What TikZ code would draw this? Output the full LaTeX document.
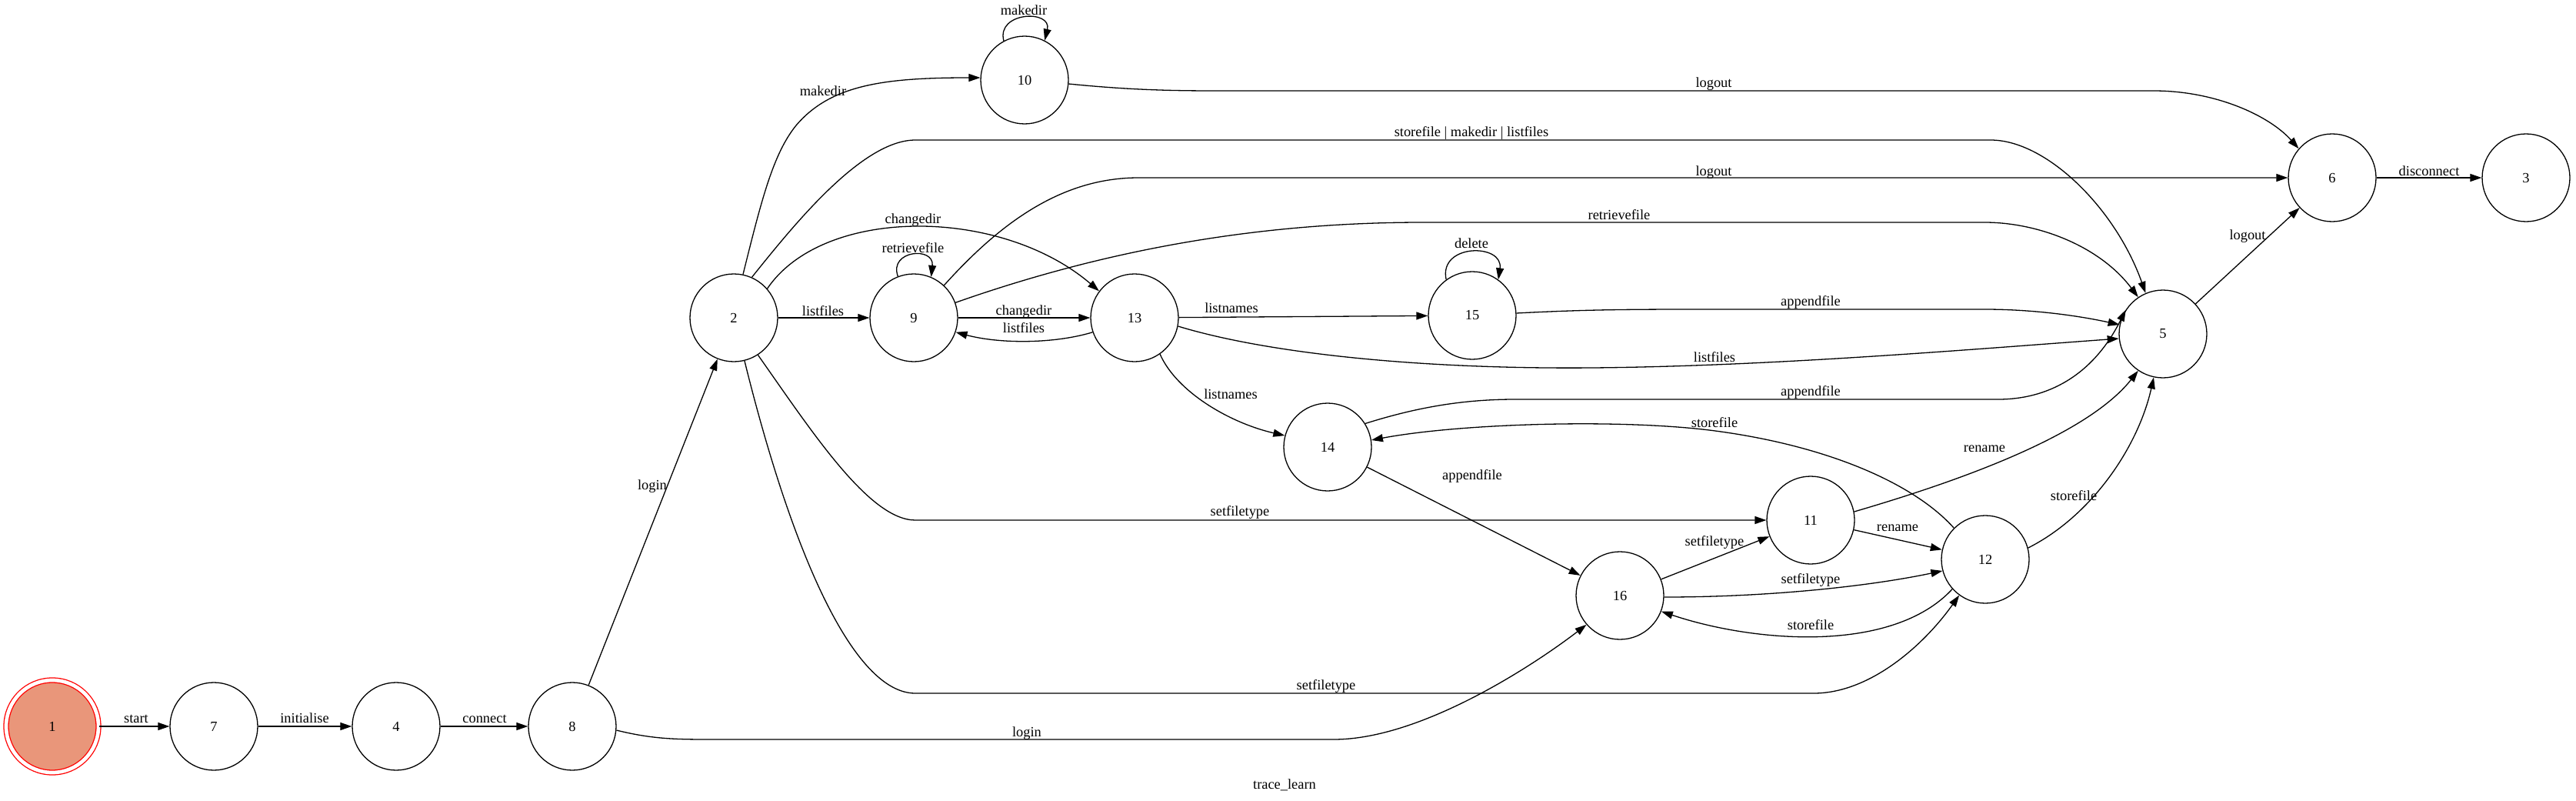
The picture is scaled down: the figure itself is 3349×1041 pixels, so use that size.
\documentclass[tikz,border=0pt]{standalone}
\usepackage{fontspec}
\setmainfont{Liberation Serif}
\usetikzlibrary{arrows.meta}
\definecolor{startfill}{RGB}{233,150,122}
\begin{document}
\begin{tikzpicture}[x=1pt,y=-1pt,
  state/.style={circle,draw,line width=1.3pt,minimum size=114pt,inner sep=0pt,font=\fontsize{18.4}{22}\selectfont},
  edge/.style={line width=1.3pt,-{Triangle[length=15pt,width=10pt]}},
  lbl/.style={inner sep=0pt,font=\fontsize{18.4}{22}\selectfont,text height=12.5pt,text depth=4pt}]
\useasboundingbox (0,0) rectangle (3349,1041);
% states
\node[state,draw=red,fill=startfill,double=white,double distance=4.7pt,minimum size=120pt] (n1) at (68,944) {1};
\node[state] (n7) at (278,944) {7};
\node[state] (n4) at (515,944) {4};
\node[state] (n8) at (744,944) {8};
\node[state] (n2) at (954,413) {2};
\node[state] (n9) at (1188,413) {9};
\node[state] (n13) at (1475,413) {13};
\node[state] (n15) at (1914,410) {15};
\node[state] (n10) at (1332,104) {10};
\node[state] (n6) at (3032,231) {6};
\node[state] (n3) at (3284,231) {3};
\node[state] (n5) at (2812,434) {5};
\node[state] (n14) at (1726,581) {14};
\node[state] (n11) at (2354,676) {11};
\node[state] (n12) at (2581,727) {12};
\node[state] (n16) at (2106,774) {16};
% edges
\draw[edge] (n1) -- (n7);
\draw[edge] (n7) -- (n4);
\draw[edge] (n4) -- (n8);
\draw[edge] (n8) -- (n2);
\draw[edge] (n8.-5) .. controls (850,961) and (880,961) .. (930,961) -- (1734,961) .. controls (1850,961) and (2000,860) .. (n16.221);
\draw[edge] (n2.78) .. controls (990,260) and (1005,200) .. (1035,163) .. controls (1080,110) and (1150,101) .. (n10.177);
\draw[edge] (n2.66) .. controls (1030,295) and (1120,182) .. (1190,182) -- (2588,182) .. controls (2660,182) and (2750,270) .. (n5.113);
\draw[edge] (n2.41) .. controls (1070,268) and (1300,268) .. (n13.143);
\draw[edge] (n2) -- (n9);
\draw[edge] (n2.-57) .. controls (1055,560) and (1130,676) .. (1190,676) -- (n11.west);
\draw[edge] (n2.-76) .. controls (1030,720) and (1110,901) .. (1190,901) -- (2358,901) .. controls (2430,901) and (2500,840) .. (n12.-126);
\draw[edge] (n9.111) .. controls (1155,325) and (1215,320) .. (n9.67);
\draw[edge] (n9.47) .. controls (1300,290) and (1380,231) .. (1480,231) -- (n6.west);
\draw[edge] (n9.20) .. controls (1450,320) and (1650,289) .. (1850,289) -- (2580,289) .. controls (2650,289) and (2730,320) .. (n5.124);
\draw[edge] (n9) -- (n13);
\draw[edge] (n13.199) .. controls (1370,447) and (1300,447) .. (n9.-19);
\draw[edge] (n10.118) .. controls (1295,15) and (1368,12) .. (n10.63);
\draw[edge] (n10.-5) .. controls (1460,116) and (1510,118) .. (1580,118) -- (2800,118) .. controls (2880,118) and (2950,150) .. (n6.139);
\draw[edge] (n13) -- (n15);
\draw[edge] (n13.-11) .. controls (1650,460) and (1850,480) .. (2070,478) .. controls (2300,476) and (2550,455) .. (n5.186);
\draw[edge] (n13.-55) .. controls (1530,510) and (1600,550) .. (n14.165);
\draw[edge] (n15.126) .. controls (1870,316) and (1955,316) .. (n15.54);
\draw[edge] (n15.3) .. controls (2050,403) and (2100,402) .. (2200,402) -- (2580,402) .. controls (2650,402) and (2710,412) .. (n5.168);
\draw[edge] (n14.32) .. controls (1840,530) and (1900,519) .. (1970,519) -- (2598,519) .. controls (2660,519) and (2720,490) .. (n5.147);
\draw[edge] (n14) -- (n16);
\draw[edge] (n12.135) .. controls (2490,630) and (2380,580) .. (2230,560) .. controls (2110,544) and (1900,550) .. (n14.9);
\draw[edge] (n11.11) .. controls (2530,630) and (2710,570) .. (n5.-124);
\draw[edge] (n11) -- (n12);
\draw[edge] (n16) -- (n11);
\draw[edge] (n16.-2) .. controls (2300,776) and (2430,762) .. (n12.195);
\draw[edge] (n12.222) .. controls (2460,850) and (2280,835) .. (n16.-21);
\draw[edge] (n12.15) .. controls (2720,670) and (2780,580) .. (n5.-102);
\draw[edge] (n5) -- (n6);
\draw[edge] (n6) -- (n3);
% labels
\node[lbl] (l1) at (177,935) {start};
\node[lbl] (l2) at (396,935) {initialise};
\node[lbl] (l3) at (630,935) {connect};
\node[lbl] (l4) at (848,632) {login};
\node[lbl] (l5) at (1335,953) {login};
\node[lbl] (l6) at (1070,120) {makedir};
\node[lbl] (l7) at (1913,173) {storefile | makedir | listfiles};
\node[lbl] (l8) at (1187,286) {changedir};
\node[lbl] (l9) at (1070,406) {listfiles};
\node[lbl] (l10) at (1612,666) {setfiletype};
\node[lbl] (l11) at (1724,892) {setfiletype};
\node[lbl] (l12) at (1187,324) {retrievefile};
\node[lbl] (l13) at (2228,224) {logout};
\node[lbl] (l14) at (2105,281) {retrievefile};
\node[lbl] (l15) at (1331,405) {changedir};
\node[lbl] (l16) at (1331,428) {listfiles};
\node[lbl] (l17) at (1331,15) {makedir};
\node[lbl] (l18) at (2228,109) {logout};
\node[lbl] (l19) at (1601,402) {listnames};
\node[lbl] (l20) at (2229,466) {listfiles};
\node[lbl] (l21) at (1600,514) {listnames};
\node[lbl] (l22) at (1913,318) {delete};
\node[lbl] (l23) at (2354,393) {appendfile};
\node[lbl] (l24) at (2354,510) {appendfile};
\node[lbl] (l25) at (1914,619) {appendfile};
\node[lbl] (l26) at (2229,551) {storefile};
\node[lbl] (l27) at (2580,583) {rename};
\node[lbl] (l28) at (2467,686) {rename};
\node[lbl] (l29) at (2229,705) {setfiletype};
\node[lbl] (l30) at (2354,754) {setfiletype};
\node[lbl] (l31) at (2354,814) {storefile};
\node[lbl] (l32) at (2696,646) {storefile};
\node[lbl] (l33) at (2922,307) {logout};
\node[lbl] (l34) at (3158,224) {disconnect};
\node[lbl] (title) at (1670,1021) {trace\_learn};
\end{tikzpicture}
\end{document}
